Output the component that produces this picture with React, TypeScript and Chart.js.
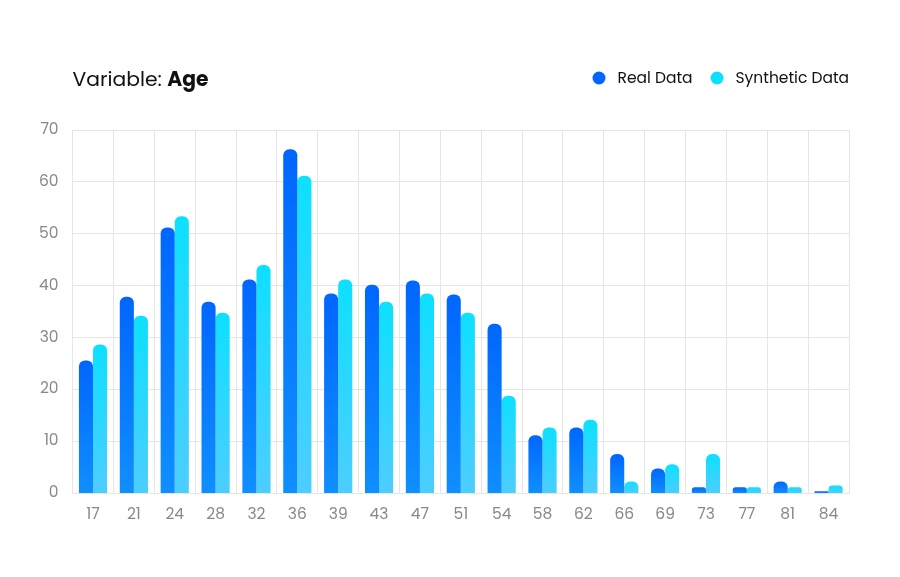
import React, { useEffect, useRef } from "react";
import { Chart, registerables } from "chart.js";

Chart.register(...registerables);

const categories = ["17","21","24","28","32","36","39","43","47","51","54","58","62","66","69","73","77","81","84"];
const realData = [25.6,37.9,51.2,36.9,41.2,66.3,38.5,40.2,41.0,38.3,32.7,11.2,12.7,7.6,4.8,1.2,1.2,2.3,0.4];
const syntheticData = [28.7,34.2,53.4,34.8,44.0,61.2,41.2,36.9,38.5,34.8,18.8,12.7,14.2,2.3,5.6,7.6,1.2,1.2,1.5];
const yTicks = [0,10,20,30,40,50,60,70];
const titlePrefix = "Variable: ";
const titleVariable = "Age";
const seriesNames = ["Real Data", "Synthetic Data"];

const FONT = "Poppins, Inter, 'Noto Sans', sans-serif";

function barGradient(top: string, bottom: string) {
  return (ctx: any) => {
    const chart = ctx.chart;
    if (!chart.chartArea || ctx.type !== "data") return top;
    const ys = chart.scales.y;
    const v = typeof ctx.raw === "number" ? ctx.raw : 0;
    const y1 = ys.getPixelForValue(v);
    const y0 = ys.getPixelForValue(0);
    if (!isFinite(y1) || !isFinite(y0) || Math.abs(y0 - y1) < 1) return top;
    const g = chart.ctx.createLinearGradient(0, y1, 0, y0);
    g.addColorStop(0, top);
    g.addColorStop(1, bottom);
    return g;
  };
}

const headerPlugin = {
  id: "header",
  afterDraw(chart: any) {
    const ctx = chart.ctx;
    ctx.save();
    ctx.textBaseline = "alphabetic";
    ctx.fillStyle = "#111111";
    ctx.font = `400 20.3px ${FONT}`;
    const x0 = chart.chartArea.left;
    ctx.fillText(titlePrefix, x0, 86);
    const w = ctx.measureText(titlePrefix).width;
    ctx.font = `700 20.3px ${FONT}`;
    ctx.fillText(titleVariable, x0 + w, 86);

    // legend
    ctx.font = `400 15.5px ${FONT}`;
    const colors = ["#0066ff", "#0de0ff"];
    const right = chart.chartArea.right;
    const w1 = ctx.measureText(seriesNames[0]).width;
    const w2 = ctx.measureText(seriesNames[1]).width;
    const gapDotText = 12;
    const r = 6.5;
    const gapItems = 18;
    const total = r * 2 + gapDotText + w1 + gapItems + r * 2 + gapDotText + w2;
    let x = right - total;
    const cy = 78;
    [[w1, 0], [w2, 1]].forEach(([tw, i]) => {
      ctx.beginPath();
      ctx.fillStyle = colors[i];
      ctx.arc(x + r, cy, r, 0, Math.PI * 2);
      ctx.fill();
      x += r * 2 + gapDotText;
      ctx.fillStyle = "#111111";
      ctx.textBaseline = "middle";
      ctx.fillText(seriesNames[i], x, cy + 1);
      x += tw + gapItems;
    });
    ctx.restore();
  },
};

export default function App() {
  const ref = useRef<HTMLCanvasElement>(null);
  useEffect(() => {
    if (!ref.current) return;
    const chart = new Chart(ref.current, {
      type: "bar",
      data: {
        labels: categories,
        datasets: [
          {
            label: seriesNames[0],
            data: realData,
            backgroundColor: barGradient("#0066ff", "#0f8fff"),
            borderRadius: { topLeft: 6, topRight: 6, bottomLeft: 0, bottomRight: 0 },
            borderSkipped: false,
            categoryPercentage: 0.69,
            barPercentage: 1.0,
          },
          {
            label: seriesNames[1],
            data: syntheticData,
            backgroundColor: barGradient("#0de0ff", "#4dcdff"),
            borderRadius: { topLeft: 6, topRight: 6, bottomLeft: 0, bottomRight: 0 },
            borderSkipped: false,
            categoryPercentage: 0.69,
            barPercentage: 1.0,
          },
        ],
      },
      options: {
        animation: false,
        responsive: true,
        maintainAspectRatio: false,
        layout: { padding: { top: 130, left: 25, right: 51, bottom: 41 } },
        plugins: {
          legend: { display: false },
          title: { display: false },
          tooltip: { enabled: false },
        },
        scales: {
          x: {
            grid: { color: "#e6e6e6", drawTicks: false, offset: true },
            border: { color: "#e6e6e6" },
            ticks: { color: "#888888", font: { family: FONT, size: 15.5 }, padding: 12 },
          },
          y: {
            min: 0,
            max: 70,
            afterBuildTicks: (axis: any) => {
              axis.ticks = yTicks.map((v) => ({ value: v }));
            },
            grid: { color: "#e6e6e6", drawTicks: false },
            border: { color: "#e6e6e6" },
            ticks: { color: "#888888", font: { family: FONT, size: 15.5 }, padding: 14 },
          },
        },
      },
      plugins: [headerPlugin],
    });
    return () => chart.destroy();
  }, []);
  return (
    <div style={{ position: "fixed", left: 0, top: 0, width: 900, height: 577, background: "#fff" }}>
      <canvas ref={ref} />
    </div>
  );
}
